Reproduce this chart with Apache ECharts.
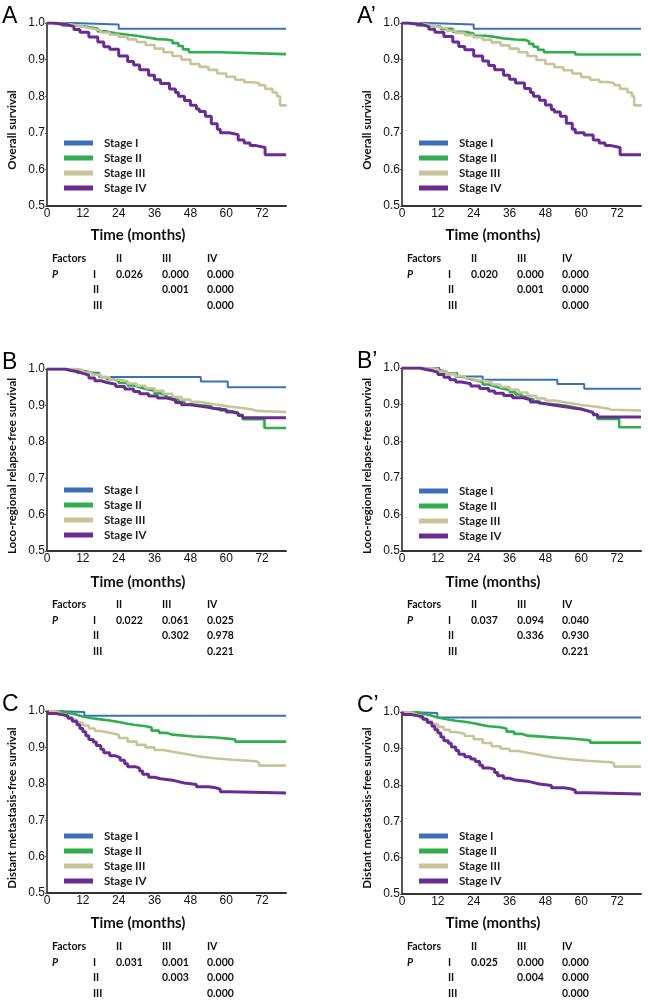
<!DOCTYPE html>
<html>
<head>
<meta charset="utf-8">
<script src="https://cdn.jsdelivr.net/npm/echarts@6/dist/echarts.min.js"></script>
<style>
  html, body { margin: 0; padding: 0; background: #fff; }
  #chart { width: 648px; height: 1003px; }
</style>
</head>
<body>
<div id="chart"></div>
<script>
// stages + colours
const stages = ['Stage I', 'Stage II', 'Stage III', 'Stage IV'];
const colors = ['#3b6fba', '#2eae4c', '#c8c399', '#6a2c93'];

// A: overall survival
const osA_I = [[0,1],[8.5,0.996],[24,0.984],[80,0.984]];
const osA_II = [[0,1],[5,0.993],[9,0.99],[13,0.985],[17,0.977],[20,0.972],[23,0.968],[27,0.965],[30,0.961],[33,0.956],[37,0.955],[40,0.952],[42,0.945],[44,0.937],[45.5,0.928],[47.5,0.92],[57.5,0.915],[80,0.915]];
const osA_III = [[0,1],[3,0.998],[6,0.995],[9,0.99],[12,0.985],[15,0.98],[18,0.974],[21,0.968],[24,0.962],[27,0.955],[30,0.948],[33,0.94],[36,0.93],[39,0.92],[42,0.91],[45,0.9],[48,0.888],[51,0.88],[54,0.872],[57,0.862],[60,0.853],[63,0.845],[66,0.838],[69,0.836],[71,0.83],[73,0.82],[75.5,0.81],[77,0.8],[78,0.775],[80,0.773]];
const osA_IV = [[0,1],[2,0.998],[4,0.995],[7,0.99],[9,0.982],[11,0.975],[14,0.962],[17,0.948],[19,0.935],[21,0.928],[24,0.91],[27,0.895],[29,0.885],[31,0.872],[34,0.857],[36,0.845],[38,0.835],[41,0.82],[43,0.81],[44,0.8],[46,0.788],[48,0.775],[50,0.765],[51,0.758],[53,0.745],[55,0.725],[57,0.71],[58,0.7],[61,0.695],[64,0.68],[66,0.672],[68,0.665],[70,0.66],[73,0.64],[80,0.64]];

// A': overall survival
const osB_I = [[0,1],[8.5,0.996],[24,0.984],[80,0.984]];
const osB_II = [[0,1],[5,0.993],[9,0.99],[13,0.984],[17,0.976],[21,0.971],[24,0.965],[28,0.962],[31,0.958],[34,0.955],[38,0.954],[41,0.95],[42.5,0.943],[44,0.935],[45.5,0.927],[47.5,0.92],[58,0.914],[80,0.914]];
const osB_III = [[0,1],[3,0.998],[6,0.995],[9,0.99],[12,0.985],[15,0.979],[18,0.973],[21,0.967],[24,0.961],[27,0.954],[30,0.947],[33,0.939],[36,0.93],[39,0.92],[42,0.91],[45,0.899],[48,0.888],[51,0.879],[54,0.871],[57,0.862],[60,0.852],[63,0.845],[66,0.839],[69,0.836],[71,0.83],[73,0.82],[75.5,0.81],[77,0.8],[77.7,0.775],[80,0.773]];
const osB_IV = [[0,1],[2,0.998],[4,0.995],[7,0.99],[9,0.983],[11,0.975],[14,0.963],[17,0.948],[19,0.936],[21,0.927],[24,0.91],[27,0.896],[29,0.884],[31,0.872],[34,0.857],[36,0.846],[38,0.836],[41,0.821],[43,0.81],[44,0.8],[46,0.789],[48,0.776],[50,0.764],[51,0.757],[53,0.745],[55,0.726],[57,0.71],[58,0.7],[61,0.694],[64,0.68],[66,0.672],[68,0.665],[70,0.66],[73,0.64],[80,0.64]];

// B: loco-regional relapse-free survival
const lrA_I = [[0,1],[10,0.99],[17.5,0.978],[51.5,0.966],[60.5,0.95],[80,0.95]];
const lrA_II = [[0,1],[10,0.995],[12,0.99],[15,0.985],[17.5,0.978],[20,0.972],[22,0.968],[24,0.962],[27,0.955],[29,0.95],[31,0.945],[33,0.94],[36,0.933],[38,0.928],[40,0.922],[42,0.916],[44,0.91],[46,0.903],[48,0.9],[52,0.898],[55,0.892],[58,0.886],[60,0.884],[62,0.88],[64,0.874],[65.5,0.862],[72.8,0.838],[80,0.838]];
const lrA_III = [[0,1],[9,0.997],[12,0.99],[15,0.984],[18,0.977],[21,0.971],[24,0.966],[27,0.96],[30,0.954],[33,0.947],[36,0.94],[39,0.932],[42,0.923],[45,0.916],[48,0.91],[51,0.906],[54,0.902],[57,0.898],[60,0.895],[63,0.892],[66,0.888],[69,0.885],[70,0.882],[80,0.882]];
const lrA_IV = [[0,1],[6,0.996],[8,0.993],[10,0.988],[12,0.983],[14,0.975],[16,0.968],[18,0.963],[20,0.958],[23,0.952],[26,0.945],[29,0.938],[31,0.932],[34,0.926],[37,0.92],[40,0.915],[43,0.908],[45,0.902],[48,0.898],[51,0.895],[54,0.89],[57,0.888],[60,0.882],[62,0.878],[64,0.872],[65.5,0.866],[80,0.866]];

// B': loco-regional relapse-free survival
const lrB_I = [[0,1],[12.5,0.986],[18.5,0.977],[27,0.968],[52,0.956],[61,0.943],[80,0.943]];
const lrB_II = [[0,1],[10,0.995],[12,0.99],[15,0.984],[18,0.977],[20,0.972],[22,0.967],[24,0.962],[27,0.955],[29,0.95],[31,0.945],[33,0.94],[36,0.934],[38,0.928],[40,0.922],[42,0.915],[44,0.909],[46,0.903],[48,0.9],[52,0.897],[55,0.892],[58,0.887],[60,0.884],[62,0.879],[64,0.873],[65.4,0.861],[72.7,0.838],[80,0.838]];
const lrB_III = [[0,1],[9,0.997],[12,0.99],[15,0.984],[18,0.978],[21,0.972],[24,0.966],[27,0.961],[30,0.955],[33,0.948],[36,0.941],[39,0.933],[42,0.924],[45,0.917],[48,0.911],[51,0.907],[54,0.903],[57,0.899],[60,0.896],[63,0.893],[66,0.889],[69,0.886],[70,0.884],[80,0.884]];
const lrB_IV = [[0,1],[6,0.996],[8,0.993],[10,0.988],[12,0.982],[14,0.975],[16,0.968],[18,0.962],[20,0.957],[23,0.951],[26,0.944],[29,0.937],[31,0.931],[34,0.925],[37,0.919],[40,0.914],[43,0.907],[45,0.902],[48,0.898],[51,0.895],[54,0.891],[57,0.888],[60,0.883],[62,0.878],[64,0.872],[65.5,0.866],[80,0.866]];

// C: distant metastasis-free survival
const dmA_I = [[0,1],[2,0.997],[12.5,0.987],[80,0.987]];
const dmA_II = [[0,1],[4.5,0.995],[7,0.99],[10,0.985],[12,0.98],[15,0.977],[18,0.974],[21,0.97],[24,0.965],[27,0.962],[29,0.958],[33,0.955],[35,0.946],[37.5,0.94],[40,0.935],[42,0.93],[49,0.927],[56.5,0.922],[63,0.916],[80,0.916]];
const dmA_III = [[0,1],[2,0.997],[4,0.99],[6,0.984],[8,0.976],[10,0.968],[12,0.96],[14,0.952],[16,0.945],[18,0.94],[21,0.935],[24,0.926],[27,0.916],[30,0.907],[33,0.9],[36,0.893],[39,0.888],[42,0.884],[45,0.88],[48,0.875],[51,0.87],[56,0.866],[62,0.862],[70,0.858],[71,0.85],[80,0.85]];
const dmA_IV = [[0,1],[0.5,0.993],[3,0.99],[5,0.987],[7,0.98],[8.5,0.972],[10,0.962],[11,0.952],[12,0.943],[13,0.932],[14,0.922],[15.5,0.915],[16.5,0.905],[18,0.895],[19,0.885],[21,0.877],[23,0.872],[24.5,0.865],[26,0.855],[27,0.847],[29.5,0.843],[31,0.835],[32,0.826],[34,0.818],[36,0.814],[38,0.81],[42,0.806],[44,0.802],[46,0.798],[50,0.792],[54,0.79],[56,0.785],[58,0.778],[61,0.775],[80,0.775]];

// C': distant metastasis-free survival
const dmB_I = [[0,1],[2,0.997],[11.8,0.985],[80,0.985]];
const dmB_II = [[0,1],[4.5,0.995],[7,0.99],[10,0.985],[12,0.98],[15,0.976],[18,0.973],[21,0.969],[24,0.964],[27,0.961],[29,0.958],[33,0.954],[35,0.946],[37.5,0.94],[40,0.935],[42,0.931],[49,0.927],[56.5,0.922],[63,0.916],[80,0.916]];
const dmB_III = [[0,1],[2,0.997],[4,0.99],[6,0.983],[8,0.975],[10,0.967],[12,0.959],[14,0.951],[16,0.945],[18,0.94],[21,0.934],[24,0.925],[27,0.915],[30,0.906],[33,0.899],[36,0.893],[39,0.888],[42,0.884],[45,0.879],[48,0.875],[51,0.87],[56,0.866],[62,0.862],[70,0.858],[71,0.85],[80,0.85]];
const dmB_IV = [[0,1],[0.5,0.993],[3,0.99],[5,0.987],[7,0.98],[8.5,0.971],[10,0.961],[11,0.951],[12,0.942],[13,0.931],[14,0.921],[15.5,0.914],[16.5,0.904],[18,0.894],[19,0.884],[21,0.877],[23,0.871],[24.5,0.864],[26,0.854],[27,0.846],[29.5,0.842],[31,0.834],[32,0.825],[34,0.818],[36,0.813],[38,0.81],[42,0.806],[44,0.802],[46,0.798],[50,0.792],[54,0.79],[56,0.785],[58,0.778],[62,0.775],[80,0.775]];

// pairwise log-rank P tables (rows I, II, III; cols II, III, IV)
const pOS_A = [['0.026','0.000','0.000'],['','0.001','0.000'],['','','0.000']];
const pOS_B = [['0.020','0.000','0.000'],['','0.001','0.000'],['','','0.000']];
const pLR_A = [['0.022','0.061','0.025'],['','0.302','0.978'],['','','0.221']];
const pLR_B = [['0.037','0.094','0.040'],['','0.336','0.930'],['','','0.221']];
const pDM_A = [['0.031','0.001','0.000'],['','0.003','0.000'],['','','0.000']];
const pDM_B = [['0.025','0.000','0.000'],['','0.004','0.000'],['','','0.000']];

const xTicks = [0, 12, 24, 36, 48, 60, 72];
const X_MAX = 80;

const panels = [
  { tag: 'A',  yName: 'Overall survival', curves: [osA_I, osA_II, osA_III, osA_IV], p: pOS_A, left: 47,  top: 23,  h: 183, nameY: 130, legTop: 131, rows: 259, timeY: 235 },
  { tag: 'A\u2019', yName: 'Overall survival', curves: [osB_I, osB_II, osB_III, osB_IV], p: pOS_B, left: 402, top: 23,  h: 183, nameY: 130, legTop: 131, rows: 259, timeY: 235 },
  { tag: 'B',  yName: 'Loco-regional relapse-free survival', curves: [lrA_I, lrA_II, lrA_III, lrA_IV], p: pLR_A, left: 47,  top: 369, h: 182, nameY: 466, legTop: 478, rows: 605, timeY: 582 },
  { tag: 'B\u2019', yName: 'Loco-regional relapse-free survival', curves: [lrB_I, lrB_II, lrB_III, lrB_IV], p: pLR_B, left: 402, top: 368, h: 183, nameY: 466, legTop: 479, rows: 605, timeY: 582 },
  { tag: 'C',  yName: 'Distant metastasis-free survival', curves: [dmA_I, dmA_II, dmA_III, dmA_IV], p: pDM_A, left: 47,  top: 711, h: 182, nameY: 808, legTop: 824, rows: 947, timeY: 923 },
  { tag: 'C\u2019', yName: 'Distant metastasis-free survival', curves: [dmB_I, dmB_II, dmB_III, dmB_IV], p: pDM_B, left: 402, top: 712, h: 182, nameY: 808, legTop: 824, rows: 947, timeY: 923 }
];
const PLOT_W = 239;
const widths = [2, 2.6, 2.6, 3];

const tabFont = 'bold 10.5px Lato';
const grid = [], xAxis = [], yAxis = [], series = [], legend = [], graphic = [];

panels.forEach((pn, i) => {
  grid.push({ left: pn.left, top: pn.top, width: PLOT_W, height: pn.h });
  xAxis.push({
    type: 'value', gridIndex: i, min: 0, max: X_MAX, interval: 12,
    axisLine: { lineStyle: { color: '#333', width: 2 } },
    axisTick: { show: false },
    splitLine: { show: false },
    axisLabel: {
      margin: 2, fontSize: 12, color: '#111', fontFamily: 'Liberation Sans',
      showMaxLabel: false,
      formatter: v => xTicks.includes(v) ? String(v) : ''
    }
  });
  yAxis.push({
    type: 'value', gridIndex: i, min: 0.5, max: 1.0, interval: 0.1,
    axisLine: { show: true, lineStyle: { color: '#555', width: 2 } },
    axisTick: { show: true, length: 2, lineStyle: { color: '#555' } },
    splitLine: { show: false },
    axisLabel: { margin: 2, fontSize: 12, color: '#111', fontFamily: 'Liberation Sans', formatter: v => v.toFixed(1) }
  });
  pn.curves.forEach((d, k) => {
    series.push({
      name: stages[k], type: 'line', step: 'end', xAxisIndex: i, yAxisIndex: i,
      data: d, showSymbol: false, color: colors[k],
      lineStyle: { width: widths[k], color: colors[k] },
      z: 2 + k
    });
  });
  legend.push({
    data: stages, orient: 'vertical', left: pn.left + 12, top: pn.legTop,
    icon: 'rect', itemWidth: 29, itemHeight: 5, itemGap: 1, selectedMode: false,
    textStyle: { fontFamily: 'Lato', fontWeight: 'bold', fontSize: 11.5, color: '#222', lineHeight: 14, padding: [0, 0, 0, 6] }
  });

  // panel letter
  graphic.push({ type: 'text', x: pn.left - 45, y: pn.top - 18, style: { text: pn.tag, font: '23px "Liberation Sans"', fill: '#000' } });
  // y-axis title
  graphic.push({ type: 'text', x: pn.left - 35, y: pn.nameY, rotation: Math.PI / 2,
    style: { text: pn.yName, font: 'bold 11.5px Lato', fill: '#111', textAlign: 'center', textVerticalAlign: 'middle' } });
  // x-axis title
  graphic.push({ type: 'text', x: pn.left + 91, y: pn.timeY,
    style: { text: 'Time (months)', font: 'bold 15px Lato', fill: '#111', textAlign: 'center', textVerticalAlign: 'middle' } });

  // P-value table
  const cx = [pn.left + 5, pn.left + 46, pn.left + 69, pn.left + 115, pn.left + 160];
  const ry = [pn.rows, pn.rows + 15.5, pn.rows + 31, pn.rows + 47];
  const cell = (t, x, y, font) => graphic.push({ type: 'text', x: x, y: y,
    style: { text: t, font: font || tabFont, fill: '#111', textVerticalAlign: 'middle' } });
  cell('Factors', cx[0], ry[0]);
  ['II', 'III', 'IV'].forEach((h, j) => cell(h, cx[2 + j], ry[0]));
  cell('P', cx[0], ry[1], 'italic bold 10.5px Lato');
  ['I', 'II', 'III'].forEach((r, j) => {
    cell(r, cx[1], ry[1 + j]);
    pn.p[j].forEach((v, c) => { if (v) cell(v, cx[2 + c], ry[1 + j]); });
  });
});

const chart = echarts.init(document.getElementById('chart'));
chart.setOption({
  animation: false,
  backgroundColor: '#fff',
  grid, xAxis, yAxis, series, legend, graphic
});
</script>
</body>
</html>
